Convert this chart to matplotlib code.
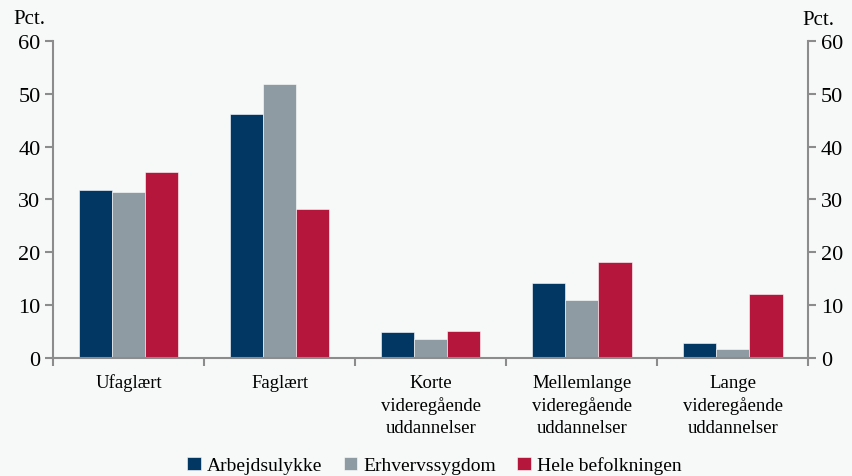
import numpy as np
import matplotlib.pyplot as plt

categories = ['Ufaglært', 'Faglært', 'Korte\nvideregående\nuddannelser',
              'Mellemlange\nvideregående\nuddannelser', 'Lange\nvideregående\nuddannelser']
arbejdsulykke = [31.7, 46.2, 4.9, 14.2, 2.9]
erhvervssygdom = [31.4, 51.8, 3.7, 11.1, 1.8]
hele_befolkningen = [35.2, 28.2, 5.1, 18.1, 12.1]
series_names = ['Arbejdsulykke', 'Erhvervssygdom', 'Hele befolkningen']
colors = ['#023764', '#8e9ba3', '#b4163c']

plt.rcParams['font.family'] = ['Liberation Serif', 'DejaVu Serif']
bg = '#f7f9f9'
axcol = '#8c8c8c'

fig = plt.figure(figsize=(8.52, 4.77), dpi=100, facecolor=bg)
ax = fig.add_axes([0.0622, 0.2468, 0.8865, 0.6658], facecolor=bg)

x = np.arange(len(categories))
w = 0.22
for i, (vals, name) in enumerate(zip([arbejdsulykke, erhvervssygdom, hele_befolkningen], series_names)):
    ax.bar(x + (i - 1) * w, vals, w, color=colors[i], label=name,
           edgecolor='white', linewidth=0.4, zorder=2)

ax.set_xlim(-0.5, len(categories) - 0.5)
ax.set_ylim(0, 60)
ax.set_yticks(range(0, 61, 10))
ax.tick_params(axis='y', labelsize=16, color=axcol, length=6, width=1.5, pad=3)

ax.set_xticks(x)
ax.set_xticklabels(categories, fontsize=13.5, linespacing=1.4)
ax.set_xticks(np.arange(-0.5, len(categories)), minor=True)
ax.tick_params(axis='x', which='major', length=0, pad=11)
ax.tick_params(axis='x', which='minor', length=6, width=1.5, color=axcol)

for s in ['top', 'right']:
    ax.spines[s].set_visible(False)
for s in ['left', 'bottom']:
    ax.spines[s].set_color(axcol)
    ax.spines[s].set_linewidth(1.5)

ax2 = ax.twinx()
ax2.set_ylim(0, 60)
ax2.set_yticks(range(0, 61, 10))
ax2.tick_params(axis='y', labelsize=16, color=axcol, length=6, width=1.5, pad=3)
for s in ['top', 'left', 'bottom']:
    ax2.spines[s].set_visible(False)
ax2.spines['right'].set_color(axcol)
ax2.spines['right'].set_linewidth(1.5)

fig.text(0.016, 0.96, 'Pct.', fontsize=15, ha='left', va='center')
fig.text(0.942, 0.957, 'Pct.', fontsize=15, ha='left', va='center')

ax.legend(loc='lower center', bbox_to_anchor=(0.505, -0.42), ncol=3, frameon=False,
          fontsize=14, handlelength=0.7, handleheight=0.7, handletextpad=0.3,
          columnspacing=1.1)

fig.savefig('out.png', dpi=100, facecolor=bg)
